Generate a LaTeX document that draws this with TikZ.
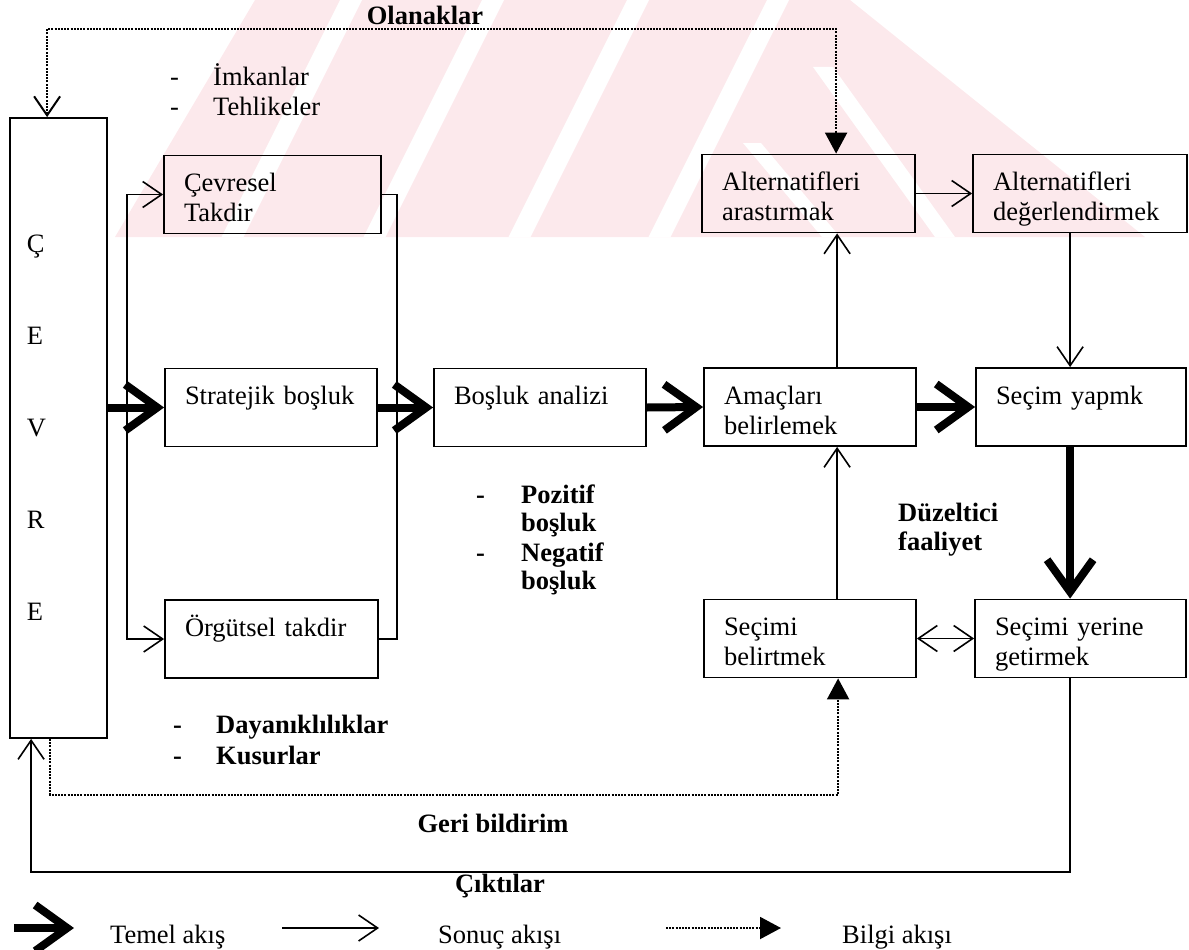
\documentclass[tikz,border=0pt]{standalone}
\usepackage{fontspec}
\setmainfont{Liberation Serif}
\usetikzlibrary{arrows.meta,calc}
\definecolor{wm}{RGB}{252,233,236}
\newcommand\myfs{\fontsize{26.5pt}{30pt}\selectfont}
\newcommand\uS{\rule{0pt}{32pt}}
\newcommand\dS{\rule[-8pt]{0pt}{8pt}}
\newcommand\dsh[1]{\makebox[#1][l]{-}}
\begin{document}
\begin{tikzpicture}[x=1pt,y=-1pt,
  bx/.style={draw, line width=1.8pt, font=\myfs, align=left, inner xsep=20pt, inner ysep=0pt, minimum height=78pt},
  lbl/.style={font=\myfs, anchor=base west, inner sep=0pt},
  blbl/.style={font=\myfs\bfseries, anchor=base west, inner sep=0pt},
  tarr/.style={line width=8pt, -{Straight Barb[length=32pt,width=46pt]}},
  sarr/.style={line width=1.6pt, -{Straight Barb[length=19pt,width=26pt]}},
  conn/.style={line width=1.6pt},
  dline/.style={line width=2pt, dash pattern=on 2pt off 1.2pt},
  tri/.tip={Triangle[length=21pt,width=22pt]},
  barb/.tip={Straight Barb[length=19pt,width=26pt]}]
\useasboundingbox (0,0) rectangle (1189,950);

% watermark
\begin{scope}
\clip (0,0) rectangle (1189,237);
\fill[wm] (115,237) -- (255,0) -- (850,0) -- (1145,237) -- cycle;
\foreach \t in {340,482,627,767}{
  \fill[white] (\t,0) -- (\t+22,0) -- (\t+22-118.5,237) -- (\t-118.5,237) -- cycle;
}
\fill[white] (813,67) -- (833,67) -- (955,237) -- (935,237) -- cycle;
\fill[white] (743,143) -- (761,143) -- (840,237) -- (822,237) -- cycle;
\end{scope}

% boxes
\node[draw, line width=1.8pt, minimum width=97pt, minimum height=620pt, text width=63pt, inner xsep=17pt, inner ysep=0pt, align=left, font=\fontsize{26.5pt}{92pt}\selectfont] (cevre) at (58.5,428) {Ç\\E\\V\\R\\E};
\node[bx, text width=177pt] (cevresel) at (272.5,194.5) {\uS Çevresel\\\dS Takdir};
\node[bx, text width=172pt] (strat) at (271,407.5) {\uS Stratejik boşluk\\\dS};
\node[bx, text width=173pt] (orgut) at (271.5,639) {\uS Örgütsel takdir\\\dS};
\node[bx, text width=172pt] (bosluk) at (540,407.5) {\uS Boşluk analizi\\\dS};
\node[bx, text width=172pt] (amac) at (810,407) {\uS Amaçları\\\dS belirlemek};
\node[bx, text width=170pt] (secim) at (1081,407) {\uS Seçim yapmk\\\dS};
\node[bx, text width=173pt] (alt1) at (808.5,193.5) {\uS Alternatifleri\\\dS arastırmak};
\node[bx, text width=174pt] (alt2) at (1080,193.5) {\uS Alternatifleri\\\dS değerlendirmek};
\node[bx, text width=172pt] (belirt) at (810,638.5) {\uS Seçimi\\\dS belirtmek};
\node[bx, text width=171pt] (yerine) at (1080.5,638.5) {\uS Seçimi yerine\\\dS getirmek};

% labels
\node[blbl, anchor=base] (olan) at (425,25) {Olanaklar};
\node[lbl] (imk1) at (170,85) {\dsh{43pt}İmkanlar};
\node[lbl] (imk2) at (170,115) {\dsh{43pt}Tehlikeler};
\node[blbl] (poz1) at (476,503) {\dsh{45pt}Pozitif};
\node[blbl] (poz2) at (521,531) {boşluk};
\node[blbl] (neg1) at (476,561) {\dsh{45pt}Negatif};
\node[blbl] (neg2) at (521,589) {boşluk};
\node[blbl] (duz1) at (898,521) {Düzeltici};
\node[blbl] (duz2) at (898,550) {faaliyet};
\node[blbl] (day1) at (173,733) {\dsh{43pt}Dayanıklılıklar};
\node[blbl] (day2) at (173,764) {\dsh{43pt}Kusurlar};
\node[blbl, anchor=base] (geri) at (493,832) {Geri bildirim};
\node[blbl, anchor=base] (cikti) at (500,892) {Çıktılar};

% main flow
\draw[tarr] (strat.west -| cevre.east) -- (strat.west);
\draw[tarr] (strat.east) -- (bosluk.west);
\draw[tarr] (bosluk.east) -- (amac.west);
\draw[tarr] (amac.west -| amac.east) -- (secim.west);
\coordinate (s1) at ($(secim.south west)+(95,0)$);
\draw[tarr] (s1) -- (s1 |- yerine.north);

% left bus
\coordinate (bt) at ($(cevre.east |- cevresel.west)+(19,0)$);
\coordinate (bb) at ($(cevre.east |- orgut.west)+(19,0)$);
\draw[sarr] (bb) |- (cevresel.west);
\draw[sarr] (bt) |- (orgut.west);
% right bus
\draw[conn] (cevresel.east) -| ($(orgut.east)+(18,0)$) -- (orgut.east);

% result flows
\coordinate (am1) at ($(amac.north west)+(134,0)$);
\draw[sarr] (am1) -- (am1 |- alt1.south);
\coordinate (bl1) at ($(belirt.north west)+(134,0)$);
\draw[sarr] (bl1) -- (bl1 |- amac.south);
\draw[sarr] (alt1.east) -- (alt2.west);
\coordinate (a2) at ($(alt2.south west)+(98,0)$);
\draw[sarr] (a2) -- (a2 |- secim.north);
\draw[line width=1.6pt, barb-barb] (belirt.east) -- (yerine.west);

% outputs loop
\coordinate (outy) at (0,872);
\coordinate (ye1) at ($(yerine.south west)+(96,0)$);
\coordinate (ce1) at ($(cevre.south west)+(22,0)$);
\draw[sarr] (ye1) |- (outy -| ce1) -- (ce1);

% information flows
\coordinate (fby) at (0,795);
\coordinate (ce2) at ($(cevre.south west)+(41,0)$);
\coordinate (bl2) at ($(belirt.south west)+(135,0)$);
\draw[dline, -tri] (ce2) |- (fby -| bl2) -- (bl2);
\coordinate (olay) at (0,29);
\coordinate (ce3) at ($(cevre.north west)+(38,0)$);
\coordinate (al3) at ($(alt1.north west)+(135,0)$);
\draw[dline, barb-tri] (ce3) |- (olay -| al3) -- (al3);

% legend
\coordinate (l1a) at (14,928); \coordinate (l1b) at (74,928);
\draw[tarr] (l1a) -- (l1b);
\node[lbl] (lt1) at (110,943) {Temel akış};
\coordinate (l2a) at (282,928); \coordinate (l2b) at (379,928);
\draw[sarr] (l2a) -- (l2b);
\node[lbl] (lt2) at (438,943) {Sonuç akışı};
\coordinate (l3a) at (666,928); \coordinate (l3b) at (781,928);
\draw[dline, -tri] (l3a) -- (l3b);
\node[lbl] (lt3) at (842,943) {Bilgi akışı};
\end{tikzpicture}
\end{document}
